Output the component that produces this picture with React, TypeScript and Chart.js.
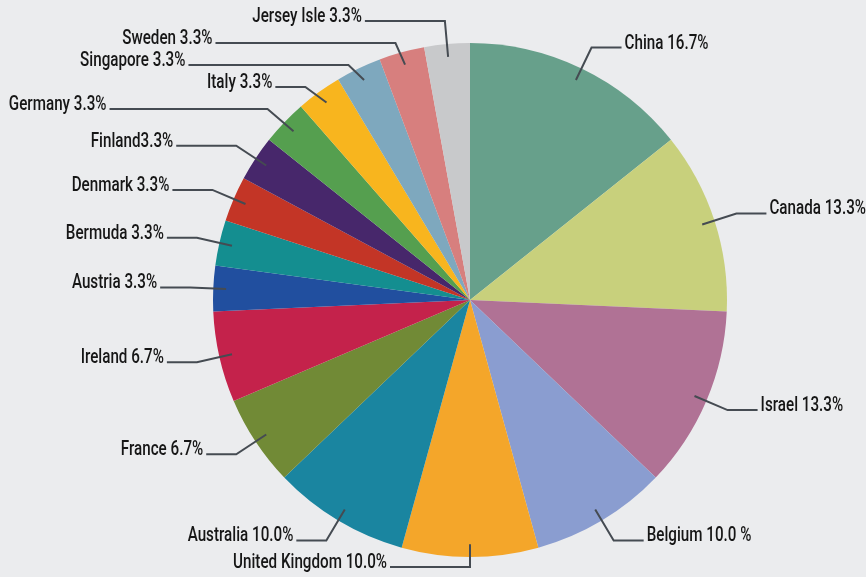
import React, { useEffect, useRef } from "react";
import { Chart, registerables } from "chart.js";

Chart.register(...registerables);

const countries = [
  "China", "Canada", "Israel", "Belgium", "United Kingdom", "Australia", "France", "Ireland",
  "Austria", "Bermuda", "Denmark", "Finland", "Germany", "Italy", "Singapore", "Sweden", "Jersey Isle",
];
const counts = [5, 4, 4, 3, 3, 3, 2, 2, 1, 1, 1, 1, 1, 1, 1, 1, 1];
const labelTexts = [
  "China 16.7%", "Canada 13.3%", "Israel 13.3%", "Belgium 10.0 %", "United Kingdom 10.0%",
  "Australia 10.0%", "France 6.7%", "Ireland 6.7%", "Austria 3.3%", "Bermuda 3.3%",
  "Denmark 3.3%", "Finland3.3%", "Germany 3.3%", "Italy 3.3%", "Singapore 3.3%",
  "Sweden 3.3%", "Jersey Isle 3.3%",
];
const colors = [
  "#67a08b", "#c8d07c", "#b07295", "#8a9dd0", "#f4a62a", "#1a85a0", "#718a36", "#c4224b",
  "#214f9f", "#148e90", "#c33526", "#47276b", "#559f4f", "#f8b51e", "#7ea8be", "#d77f7e", "#c8c9cb",
];
// extra length (px) of each label's horizontal leader segment (annotation styling)
const leaderExtra = [0, 0, 0, 0, 50, 0, 0, 0, 0, 0, 10, 30, 128, 0, 130, 150, 50];

const FONT = '500 20px Roboto, "Liberation Sans", Arial, sans-serif';
const SQUEEZE = 0.76;

const leaderPlugin = {
  id: "leaderLabels",
  afterDatasetsDraw(chart: any) {
    const ctx = chart.ctx as CanvasRenderingContext2D;
    const meta = chart.getDatasetMeta(0);
    const H = chart.height;
    type L = { i: number; sx: number; sy: number; ex: number; ey: number; left: boolean };
    const items: L[] = [];
    meta.data.forEach((arc: any, i: number) => {
      const mid = (arc.startAngle + arc.endAngle) / 2;
      const r = arc.outerRadius;
      const c = Math.cos(mid);
      const s = Math.sin(mid);
      const left = c < 1e-6;
      items.push({
        i,
        sx: arc.x + c * r * 0.95,
        sy: arc.y + s * r * 0.95,
        ex: arc.x + c * r * 1.09,
        ey: Math.min(arc.y + s * r * 1.09, H - 10),
        left,
      });
    });
    const gap = 22;
    [true, false].forEach((side) => {
      const group = items.filter((it) => it.left === side).sort((a, b) => a.ey - b.ey);
      for (let k = 1; k < group.length; k++) {
        if (group[k].ey - group[k - 1].ey < gap) group[k].ey = group[k - 1].ey + gap;
      }
      for (let k = group.length - 1; k >= 0; k--) {
        if (group[k].ey > H - 10) group[k].ey = H - 10;
        if (k < group.length - 1 && group[k + 1].ey - group[k].ey < gap) group[k].ey = group[k + 1].ey - gap;
      }
    });
    ctx.save();
    ctx.strokeStyle = "#454b52";
    ctx.lineWidth = 2;
    ctx.font = FONT;
    ctx.fillStyle = "#161616";
    ctx.textBaseline = "middle";
    items.forEach((it) => {
      const len = 30 + leaderExtra[it.i];
      const hx = it.left ? it.ex - len : it.ex + len;
      ctx.beginPath();
      ctx.moveTo(it.sx, it.sy);
      ctx.lineTo(it.ex, it.ey);
      ctx.lineTo(hx, it.ey);
      ctx.stroke();
      ctx.save();
      ctx.translate(it.left ? hx - 3 : hx + 3, it.ey - 4);
      ctx.scale(SQUEEZE, 1);
      ctx.textAlign = it.left ? "right" : "left";
      ctx.fillText(labelTexts[it.i], 0, 0);
      ctx.restore();
    });
    ctx.restore();
  },
};

export default function App() {
  const ref = useRef<HTMLCanvasElement>(null);
  useEffect(() => {
    document.body.style.margin = "0";
    document.body.style.background = "#ebecee";
    const chart = new Chart(ref.current!, {
      type: "pie",
      data: {
        labels: countries,
        datasets: [
          {
            data: counts,
            backgroundColor: colors,
            borderWidth: 0,
            hoverOffset: 0,
            offset: 0,
          } as any,
        ],
      },
      options: {
        animation: false,
        responsive: true,
        maintainAspectRatio: false,
        layout: { padding: { left: 213, right: 139, top: 43, bottom: 20 } },
        plugins: { legend: { display: false }, tooltip: { enabled: false } },
      },
      plugins: [leaderPlugin],
    });
    return () => chart.destroy();
  }, []);
  return (
    <div style={{ width: 866, height: 577, position: "relative", background: "#ebecee" }}>
      <canvas ref={ref} />
    </div>
  );
}
